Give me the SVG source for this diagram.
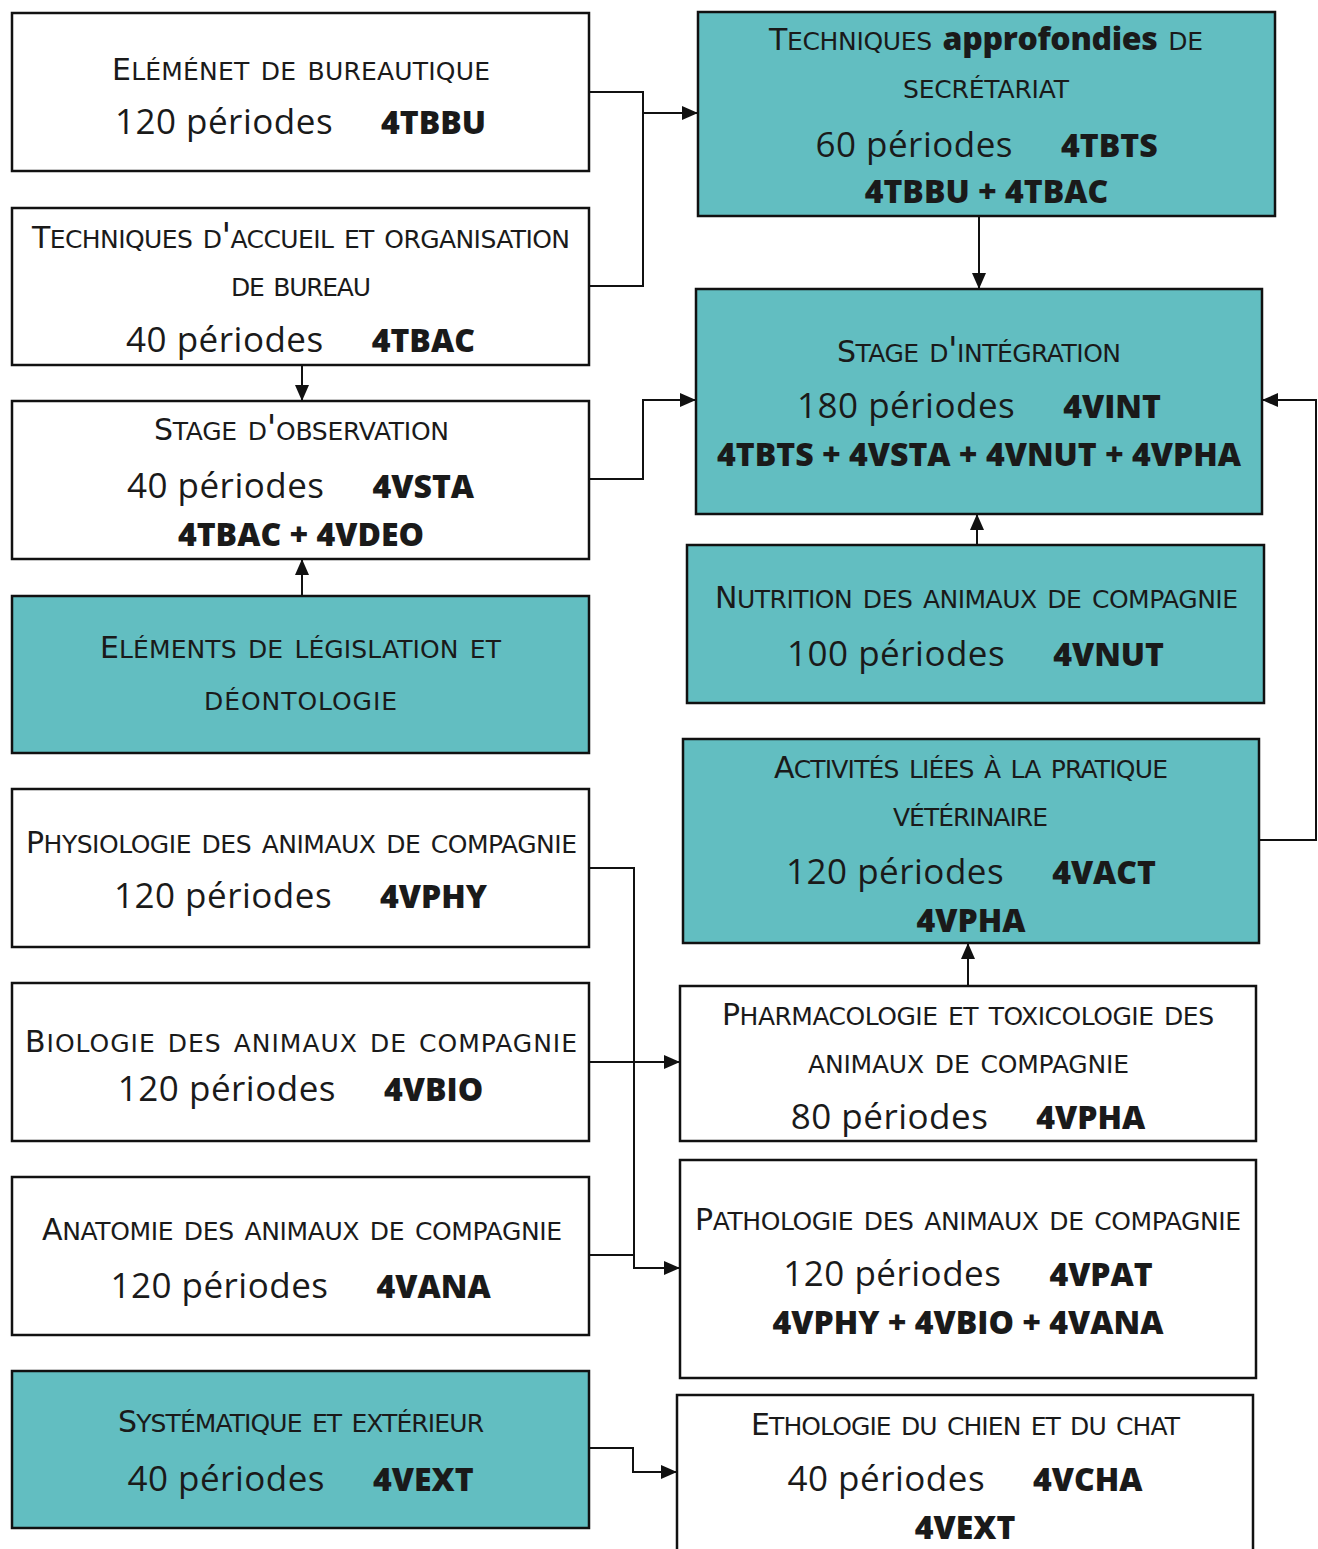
<svg xmlns="http://www.w3.org/2000/svg" width="1318" height="1549" viewBox="0 0 1318 1549">
<style>
.box{stroke:#111;stroke-width:2.5}
.w{fill:#fff}
.t{fill:#62bec1}
text{font-family:"Open Sans","Noto Sans",sans-serif;fill:#1a1a1a;text-anchor:middle}
.ti{font-family:"DejaVu Sans","Open Sans",sans-serif;font-size:35px;font-variant:small-caps}
.k{font-size:30px}
.ab{font-family:"Open Sans",sans-serif;font-variant:normal;font-weight:800;font-size:32px}
.p{font-size:35px;letter-spacing:0.5px}
.c{font-weight:800;font-size:32px;letter-spacing:0}
.cn{stroke:#111;stroke-width:2;fill:none}
</style>
<defs>
<marker id="arr" markerUnits="userSpaceOnUse" markerWidth="16" markerHeight="14" refX="16" refY="7" orient="auto" viewBox="0 0 16 14">
<path d="M0,0 L16,7 L0,14 z" fill="#111"/>
</marker>
</defs>
<rect width="1318" height="1549" fill="#fff"/>

<g id="connectors">
<path class="cn" d="M589,92 H643 V286 H589"/>
<path class="cn" d="M643,113 H698" marker-end="url(#arr)"/>
<path class="cn" d="M979,216 V289" marker-end="url(#arr)"/>
<path class="cn" d="M302,365 V401" marker-end="url(#arr)"/>
<path class="cn" d="M302,596 V559" marker-end="url(#arr)"/>
<path class="cn" d="M589,479 H643 V400 H696" marker-end="url(#arr)"/>
<path class="cn" d="M977,545 V514" marker-end="url(#arr)"/>
<path class="cn" d="M1259,840 H1316 V400 H1262" marker-end="url(#arr)"/>
<path class="cn" d="M968,986 V943" marker-end="url(#arr)"/>
<path class="cn" d="M589,868 H634 V1268 H680" marker-end="url(#arr)"/>
<path class="cn" d="M589,1062 H680" marker-end="url(#arr)"/>
<path class="cn" d="M589,1255 H634 V1268"/>
<path class="cn" d="M589,1448 H633 V1472 H677" marker-end="url(#arr)"/>
</g>

<g id="n4TBBU">
<rect class="box w" x="12" y="13" width="577" height="158"/>
<text class="ti" x="301" y="80" textLength="378"><tspan class="k">E</tspan>léménet de bureautique</text>
<text class="p" x="300.5" y="134">120 périodes<tspan class="c" dx="48">4TBBU</tspan></text>
</g>

<g id="n4TBAC">
<rect class="box w" x="12" y="208" width="577" height="157"/>
<text class="ti" x="301" y="248" textLength="538"><tspan class="k">T</tspan>echniques d'accueil et organisation</text>
<text class="ti" x="301" y="296" textLength="140">de bureau</text>
<text class="p" x="300.5" y="352">40 périodes<tspan class="c" dx="48">4TBAC</tspan></text>
</g>

<g id="n4VSTA">
<rect class="box w" x="12" y="401" width="577" height="158"/>
<text class="ti" x="301.5" y="440" textLength="295"><tspan class="k">S</tspan>tage d'observation</text>
<text class="p" x="300.5" y="498">40 périodes<tspan class="c" dx="48">4VSTA</tspan></text>
<text class="c" x="301" y="546">4TBAC + 4VDEO</text>
</g>

<g id="n4VDEO">
<rect class="box t" x="12" y="596" width="577" height="157"/>
<text class="ti" x="300.5" y="658" textLength="401"><tspan class="k">E</tspan>léments de législation et</text>
<text class="ti" x="300.5" y="710" textLength="193">déontologie</text>
</g>

<g id="n4VPHY">
<rect class="box w" x="12" y="789" width="577" height="158"/>
<text class="ti" x="301.5" y="853" textLength="551"><tspan class="k">P</tspan>hysiologie des animaux de compagnie</text>
<text class="p" x="300.5" y="908">120 périodes<tspan class="c" dx="48">4VPHY</tspan></text>
</g>

<g id="n4VBIO">
<rect class="box w" x="12" y="983" width="577" height="158"/>
<text class="ti" x="301" y="1052" textLength="552"><tspan class="k">B</tspan>iologie des animaux de compagnie</text>
<text class="p" x="300.5" y="1101">120 périodes<tspan class="c" dx="48">4VBIO</tspan></text>
</g>

<g id="n4VANA">
<rect class="box w" x="12" y="1177" width="577" height="158"/>
<text class="ti" x="302" y="1240" textLength="520"><tspan class="k">A</tspan>natomie des animaux de compagnie</text>
<text class="p" x="300.5" y="1298">120 périodes<tspan class="c" dx="48">4VANA</tspan></text>
</g>

<g id="n4VEXT">
<rect class="box t" x="12" y="1371" width="577" height="157"/>
<text class="ti" x="301" y="1432" textLength="366"><tspan class="k">S</tspan>ystématique et extérieur</text>
<text class="p" x="300.5" y="1491">40 périodes<tspan class="c" dx="48">4VEXT</tspan></text>
</g>

<g id="n4TBTS">
<rect class="box t" x="698" y="12" width="577" height="204"/>
<text class="ti" x="986" y="50" textLength="434"><tspan class="k">T</tspan>echniques <tspan class="ab">approfondies</tspan> de</text>
<text class="ti" x="986" y="98" textLength="166">secrétariat</text>
<text class="p" x="986.5" y="157">60 périodes<tspan class="c" dx="48">4TBTS</tspan></text>
<text class="c" x="986.5" y="203">4TBBU + 4TBAC</text>
</g>

<g id="n4VINT">
<rect class="box t" x="696" y="289" width="566" height="225"/>
<text class="ti" x="979" y="362" textLength="284"><tspan class="k">S</tspan>tage d'intégration</text>
<text class="p" x="979" y="418">180 périodes<tspan class="c" dx="48">4VINT</tspan></text>
<text class="c" x="979" y="466">4TBTS + 4VSTA + 4VNUT + 4VPHA</text>
</g>

<g id="n4VNUT">
<rect class="box t" x="687" y="545" width="577" height="158"/>
<text class="ti" x="976.5" y="608" textLength="523"><tspan class="k">N</tspan>utrition des animaux de compagnie</text>
<text class="p" x="975.5" y="666">100 périodes<tspan class="c" dx="48">4VNUT</tspan></text>
</g>

<g id="n4VACT">
<rect class="box t" x="683" y="739" width="576" height="204"/>
<text class="ti" x="971" y="778" textLength="394"><tspan class="k">A</tspan>ctivités liées à la pratique</text>
<text class="ti" x="970.5" y="826" textLength="155">vétérinaire</text>
<text class="p" x="971" y="884">120 périodes<tspan class="c" dx="48">4VACT</tspan></text>
<text class="c" x="971" y="932">4VPHA</text>
</g>

<g id="n4VPHA">
<rect class="box w" x="680" y="986" width="576" height="155"/>
<text class="ti" x="968" y="1025" textLength="492"><tspan class="k">P</tspan>harmacologie et toxicologie des</text>
<text class="ti" x="968.5" y="1073" textLength="321">animaux de compagnie</text>
<text class="p" x="968" y="1129">80 périodes<tspan class="c" dx="48">4VPHA</tspan></text>
</g>

<g id="n4VPAT">
<rect class="box w" x="680" y="1160" width="576" height="218"/>
<text class="ti" x="968" y="1230" textLength="546"><tspan class="k">P</tspan>athologie des animaux de compagnie</text>
<text class="p" x="968" y="1286">120 périodes<tspan class="c" dx="48">4VPAT</tspan></text>
<text class="c" x="968" y="1334">4VPHY + 4VBIO + 4VANA</text>
</g>

<g id="n4VCHA">
<rect class="box w" x="677" y="1395" width="576" height="170"/>
<text class="ti" x="965.5" y="1435" textLength="429"><tspan class="k">E</tspan>thologie du chien et du chat</text>
<text class="p" x="965" y="1491">40 périodes<tspan class="c" dx="48">4VCHA</tspan></text>
<text class="c" x="965" y="1539">4VEXT</text>
</g>
</svg>
